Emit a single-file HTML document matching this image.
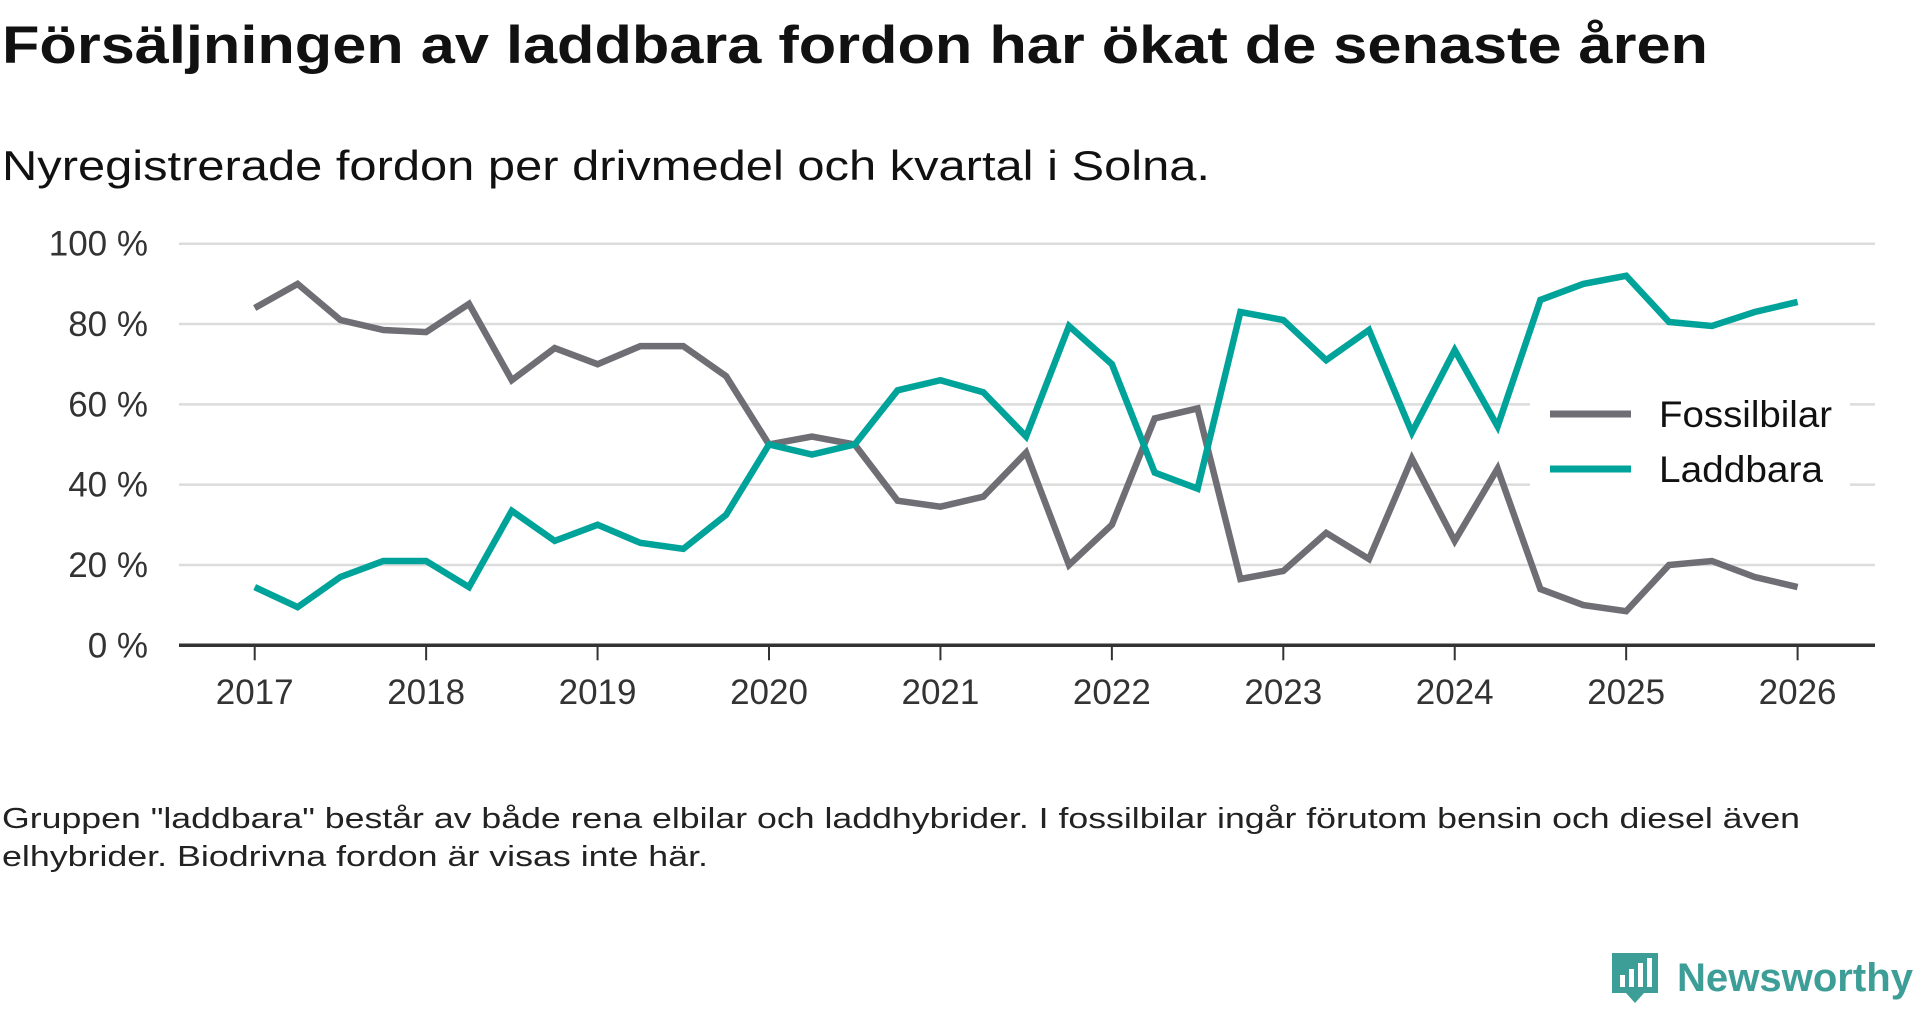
<!DOCTYPE html>
<html><head><meta charset="utf-8">
<style>
body{margin:0;background:#fff;width:1920px;height:1010px;overflow:hidden;font-family:"Liberation Sans",sans-serif;color:#111}
svg text{font-family:"Liberation Sans",sans-serif}
</style></head>
<body>
<svg id="chart" width="1920" height="1010">
<text x="2" y="63" font-size="53" font-weight="bold" fill="#111" textLength="1706" lengthAdjust="spacingAndGlyphs">Försäljningen av laddbara fordon har ökat de senaste åren</text>
<text x="2" y="180" font-size="42" fill="#111" textLength="1208" lengthAdjust="spacingAndGlyphs">Nyregistrerade fordon per drivmedel och kvartal i Solna.</text>
<g id="grid"></g><g id="lines"></g><g id="axes"></g>
<g>
<rect x="1530" y="385" width="320" height="112" fill="#fff"/>
<line x1="1550" y1="414" x2="1631" y2="414" stroke="#6f6e74" stroke-width="7"/>
<text x="1659" y="427" font-size="37" fill="#111" textLength="173" lengthAdjust="spacingAndGlyphs">Fossilbilar</text>
<line x1="1550" y1="469" x2="1631" y2="469" stroke="#00a399" stroke-width="7"/>
<text x="1659" y="482" font-size="37" fill="#111" textLength="164" lengthAdjust="spacingAndGlyphs">Laddbara</text>
</g>
<text x="2" y="828" font-size="29" fill="#222" textLength="1798" lengthAdjust="spacingAndGlyphs">Gruppen "laddbara" består av både rena elbilar och laddhybrider. I fossilbilar ingår förutom bensin och diesel även</text>
<text x="2" y="866" font-size="29" fill="#222" textLength="706" lengthAdjust="spacingAndGlyphs">elhybrider. Biodrivna fordon är visas inte här.</text>
<g>
<path d="M1612 953 h46 v40 h-14 l-9 10 l-9 -10 h-14 z" fill="#3d9e98"/>
<rect x="1620" y="975" width="5" height="12" fill="#fff"/><rect x="1629" y="969" width="5" height="18" fill="#fff"/><rect x="1638" y="963" width="5" height="24" fill="#fff"/><rect x="1647" y="958" width="5" height="29" fill="#fff"/>
<text x="1677" y="991" font-size="40" font-weight="bold" fill="#3d9e98" textLength="236" lengthAdjust="spacingAndGlyphs">Newsworthy</text>
</g>
</svg>
<script>
const years=[2017,2018,2019,2020,2021,2022,2023,2024,2025,2026];
const yTicks=[0,20,40,60,80,100];
const fossil=[84,90,81,78.5,78,85,66,74,70,74.5,74.5,67,50,52,50,36,34.5,37,48,20,30,56.5,59,16.5,18.5,28,21.5,46.5,26,44,14,10,8.5,20,21,17,14.5];
const laddbara=[14.5,9.5,17,21,21,14.5,33.5,26,30,25.5,24,32.5,50,47.5,50,63.5,66,63,52,79.5,70,43,39,83,81,71,78.5,53,73.5,54.5,86,90,92,80.5,79.5,83,85.5];
const NS="http://www.w3.org/2000/svg";
const x=t=>254.7+(t-2017)*(1797.6-254.7)/9;
const y=v=>645.3-v*(645.3-243.7)/100;
function mk(tag,attrs,parent){const e=document.createElementNS(NS,tag);for(const k in attrs)e.setAttribute(k,attrs[k]);parent.appendChild(e);return e;}
const grid=document.getElementById('grid'),axes=document.getElementById('axes'),lines=document.getElementById('lines');
yTicks.forEach(v=>{
  if(v>0){const g=mk('line',{x1:179,x2:1875,y1:y(v),y2:y(v),stroke:'#dcdcdc','stroke-width':2.5},grid);
  
  }
  const t=mk('text',{x:148,y:y(v)+12,'text-anchor':'end','font-size':35,fill:'#333'},axes);
  t.textContent=v+' %';
  
  
});
const ax=mk('line',{x1:179,x2:1875,y1:y(0),y2:y(0),stroke:'#333','stroke-width':3.5},axes);


years.forEach(yr=>{
  const tk=mk('line',{x1:x(yr),x2:x(yr),y1:y(0),y2:y(0)+15,stroke:'#333','stroke-width':2},axes);
  
  
  const t=mk('text',{x:x(yr),y:704,'text-anchor':'middle','font-size':35,fill:'#333'},axes);
  t.textContent=yr;
  
  
});
function series(vals,color,name){
  const d=vals.map((v,i)=>(i?'L':'M')+x(2017+i/4).toFixed(1)+' '+y(v).toFixed(1)).join(' ');
  const p=mk('path',{d:d,fill:'none',stroke:color,'stroke-width':6.5,'stroke-linejoin':'miter'},lines);
  
  
}
series(fossil,'#6f6e74','line-fossilbilar');
series(laddbara,'#00a399','line-laddbara');
</script>
</body></html>
